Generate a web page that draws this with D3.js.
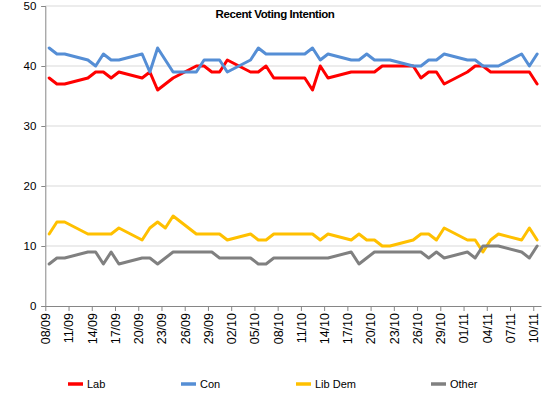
<!DOCTYPE html>
<html>
<head>
<meta charset="utf-8">
<script src="https://cdn.jsdelivr.net/npm/d3@7"></script>
<style>
  body { margin: 0; background: #fff; }
  svg { display: block; font-family: "Liberation Sans", Arial, sans-serif; }
</style>
</head>
<body>
<svg width="550" height="400"></svg>
<script>
const width = 550;
const height = 400;

// poll dates (weekdays mostly)
const dates = [
  "2010-09-08","2010-09-09","2010-09-10","2010-09-13","2010-09-14","2010-09-15","2010-09-16","2010-09-17",
  "2010-09-20","2010-09-21","2010-09-22","2010-09-23","2010-09-24","2010-09-27","2010-09-28","2010-09-29",
  "2010-09-30","2010-10-01","2010-10-04","2010-10-05","2010-10-06","2010-10-07","2010-10-08","2010-10-11",
  "2010-10-12","2010-10-13","2010-10-14","2010-10-17","2010-10-18","2010-10-19","2010-10-20","2010-10-21",
  "2010-10-22","2010-10-25","2010-10-26","2010-10-27","2010-10-28","2010-10-29","2010-11-01","2010-11-02",
  "2010-11-03","2010-11-04","2010-11-05","2010-11-08","2010-11-09","2010-11-10"
];
const lab = [38,37,37,38,39,39,38,39,38,39,36,37,38,40,40,39,39,41,39,39,40,38,38,38,36,40,38,39,39,39,39,40,40,40,38,39,39,37,39,40,40,39,39,39,39,37];
const con = [43,42,42,41,40,42,41,41,42,39,43,41,39,39,41,41,41,39,41,43,42,42,42,42,43,41,42,41,41,42,41,41,41,40,40,41,41,42,41,41,40,40,40,42,40,42];
const libDem = [12,14,14,12,12,12,12,13,11,13,14,13,15,12,12,12,12,11,12,11,11,12,12,12,12,11,12,11,12,11,11,10,10,11,12,12,11,13,11,11,9,11,12,11,13,11];
const other = [7,8,8,9,9,7,9,7,8,8,7,8,9,9,9,9,8,8,8,7,7,8,8,8,8,8,8,9,7,8,9,9,9,9,9,8,9,8,9,8,10,10,10,9,8,10];

const seriesNames = ["Lab", "Con", "Lib Dem", "Other"];
const seriesColors = ["#ff0000", "#558ed5", "#ffc000", "#808080"];
const seriesValues = [lab, con, libDem, other];
const yTicks = [0, 10, 20, 30, 40, 50];

const parse = d3.utcParse("%Y-%m-%d");
const startDate = parse("2010-09-08");
const endDate = parse("2010-11-11");

const margin = {left: 45.3, right: 9, top: 6, bottom: 94};

const x = d3.scaleUtc().domain([startDate, endDate]).range([margin.left, width - margin.right]);
const y = d3.scaleLinear().domain([0, 50]).range([height - margin.bottom, margin.top]);
const halfDay = 12 * 3600 * 1000;

const svg = d3.select("svg");

// gridlines
svg.append("g")
  .selectAll("line")
  .data(yTicks.filter(t => t > 0))
  .join("line")
  .attr("x1", margin.left).attr("x2", width - margin.right)
  .attr("y1", d => y(d)).attr("y2", d => y(d))
  .attr("stroke", "#d9d9d9").attr("stroke-width", 1.2);

// y axis
const yAxis = svg.append("g")
  .attr("transform", `translate(${margin.left},0)`)
  .call(d3.axisLeft(y).tickValues(yTicks).tickSize(4).tickPadding(5));
yAxis.select(".domain").attr("stroke", "#868686");
yAxis.selectAll(".tick line").attr("stroke", "#868686");
yAxis.selectAll("text").attr("font-size", 11.5).attr("fill", "#000");

// x axis
const xTickValues = d3.utcDay.range(startDate, endDate, 3);
const xAxis = svg.append("g")
  .attr("transform", `translate(0,${y(0)})`)
  .call(d3.axisBottom(x).tickValues(xTickValues).tickFormat(d3.utcFormat("%d/%m")).tickSize(5).tickSizeOuter(0));
xAxis.select(".domain").attr("stroke", "#868686");
xAxis.selectAll(".tick line").attr("stroke", "#868686");
xAxis.selectAll("text")
  .attr("font-size", 12.5).attr("fill", "#000")
  .attr("transform", "rotate(-90)")
  .attr("text-anchor", "end")
  .attr("x", -7).attr("y", 0).attr("dy", "0.35em");

// lines: each poll sits in the middle of its day
const line = d3.line()
  .x(d => x(new Date(d.date.getTime() + halfDay)))
  .y(d => y(d.value));

seriesValues.forEach((vals, i) => {
  const pts = dates.map((s, j) => ({date: parse(s), value: vals[j]}));
  svg.append("path")
    .datum(pts)
    .attr("fill", "none")
    .attr("stroke", seriesColors[i])
    .attr("stroke-width", 3)
    .attr("stroke-linejoin", "round")
    .attr("stroke-linecap", "round")
    .attr("d", line);
});

// title
svg.append("text")
  .attr("x", 275).attr("y", 17.5)
  .attr("text-anchor", "middle")
  .attr("font-size", 11.5).attr("font-weight", "bold")
  .attr("letter-spacing", -0.4)
  .text("Recent Voting Intention");

// legend
const legendX = [68, 181, 296, 431];
const legend = svg.append("g")
  .selectAll("g")
  .data(seriesNames)
  .join("g")
  .attr("transform", (d, i) => `translate(${legendX[i]},384)`);
legend.append("line")
  .attr("x1", 0).attr("x2", 15)
  .attr("stroke", (d, i) => seriesColors[i])
  .attr("stroke-width", 3.5);
legend.append("text")
  .attr("x", 19).attr("dy", "0.35em")
  .attr("font-size", 11)
  .text(d => d);
</script>
</body>
</html>
